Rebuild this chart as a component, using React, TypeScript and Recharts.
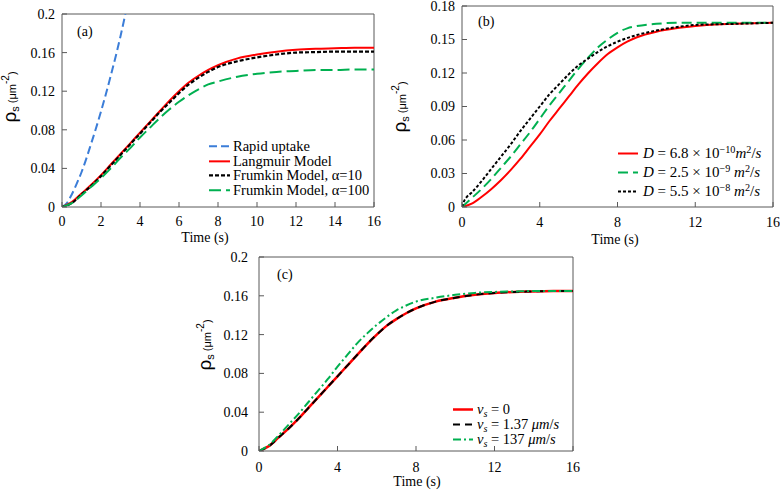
import React from 'react';
import { LineChart, Line, XAxis, YAxis, ReferenceLine } from 'recharts';

const SERIF = '"Liberation Serif", "Times New Roman", serif';
const SANS = '"Liberation Sans", Arial, sans-serif';
const AXIS = '#595959';
const RED = '#ff0000';
const GREEN = '#00b050';
const BLUE = '#3b7dd8';
const BLACK = '#000000';

// ---------- Panel (a) ----------
const xTicksA = [0, 2, 4, 6, 8, 10, 12, 14, 16];
const yTicksA = [0, 0.04, 0.08, 0.12, 0.16, 0.2];
const rapidT = [0, 0.25, 0.5, 0.75, 1, 1.5, 2, 2.5, 3, 3.25];
const rapidUptake = [0, 0.004, 0.013, 0.024, 0.036, 0.066, 0.099, 0.136, 0.177, 0.2];
const timeA = [0, 0.5, 1, 1.5, 2, 2.5, 3, 3.5, 4, 4.5, 5, 5.5, 6, 6.5, 7, 7.5, 8, 9, 10, 11, 12, 13, 14, 15, 16];
const langmuir = [0, 0.005, 0.014, 0.023, 0.033, 0.044, 0.055, 0.066, 0.077, 0.088, 0.099, 0.11, 0.12, 0.129, 0.136, 0.142, 0.147, 0.154, 0.158, 0.161, 0.163, 0.164, 0.1645, 0.165, 0.165];
const frumkin10 = [0, 0.004, 0.013, 0.022, 0.032, 0.043, 0.054, 0.065, 0.076, 0.087, 0.098, 0.108, 0.118, 0.127, 0.134, 0.14, 0.145, 0.151, 0.155, 0.158, 0.16, 0.1605, 0.161, 0.161, 0.161];
const frumkin100 = [0, 0.004, 0.012, 0.021, 0.03, 0.04, 0.051, 0.061, 0.072, 0.082, 0.092, 0.101, 0.109, 0.116, 0.122, 0.127, 0.13, 0.135, 0.138, 0.14, 0.141, 0.142, 0.142, 0.1425, 0.1425];

// ---------- Panel (b) ----------
const xTicksB = [0, 4, 8, 12, 16];
const yTicksB = [0, 0.03, 0.06, 0.09, 0.12, 0.15, 0.18];
const timeB = [0, 0.5, 1, 1.5, 2, 2.5, 3, 3.5, 4, 4.5, 5, 5.5, 6, 6.5, 7, 7.5, 8, 8.5, 9, 10, 11, 12, 13, 14, 16];
const d68e10 = [0, 0.003, 0.009, 0.016, 0.024, 0.033, 0.043, 0.054, 0.065, 0.077, 0.088, 0.099, 0.11, 0.12, 0.129, 0.137, 0.143, 0.148, 0.152, 0.157, 0.16, 0.162, 0.1635, 0.164, 0.165];
const d25e9 = [0, 0.008, 0.016, 0.025, 0.035, 0.045, 0.056, 0.067, 0.079, 0.091, 0.102, 0.113, 0.124, 0.134, 0.143, 0.15, 0.156, 0.16, 0.162, 0.164, 0.165, 0.165, 0.165, 0.165, 0.165];
const blackT = [0, 0.1, 0.25, 0.5, 1, 1.5, 2, 2.5, 3, 3.5, 4, 4.5, 5, 5.5, 6, 6.5, 7, 7.5, 8, 9, 10, 11, 12, 14, 16];
const d55e8 = [0, 0.005, 0.009, 0.013, 0.023, 0.034, 0.045, 0.056, 0.068, 0.079, 0.09, 0.101, 0.11, 0.119, 0.127, 0.133, 0.139, 0.144, 0.148, 0.154, 0.158, 0.161, 0.163, 0.164, 0.165];

// ---------- Panel (c) ----------
const xTicksC = [0, 4, 8, 12, 16];
const yTicksC = [0, 0.04, 0.08, 0.12, 0.16, 0.2];
const timeC = [0, 0.5, 1, 1.5, 2, 2.5, 3, 3.5, 4, 4.5, 5, 5.5, 6, 6.5, 7, 7.5, 8, 9, 10, 11, 12, 13, 14, 15, 16];
const vs0 = [0, 0.005, 0.014, 0.023, 0.033, 0.044, 0.055, 0.066, 0.077, 0.088, 0.099, 0.11, 0.12, 0.129, 0.136, 0.142, 0.147, 0.154, 0.158, 0.161, 0.163, 0.164, 0.1645, 0.165, 0.165];
const vs137 = [0, 0.005, 0.014, 0.023, 0.033, 0.044, 0.055, 0.066, 0.077, 0.088, 0.099, 0.11, 0.12, 0.129, 0.136, 0.142, 0.147, 0.154, 0.158, 0.161, 0.163, 0.164, 0.1645, 0.165, 0.165];
const vs137um = [0, 0.006, 0.016, 0.027, 0.038, 0.05, 0.062, 0.074, 0.087, 0.099, 0.111, 0.121, 0.13, 0.138, 0.145, 0.15, 0.154, 0.158, 0.161, 0.163, 0.164, 0.1645, 0.165, 0.165, 0.165];

const zip = (t: number[], v: number[]) => t.map((x, i) => ({ t: x, v: v[i] }));

type Series = { name: React.ReactNode; pts: { t: number; v: number }[]; color: string; dash?: string; width: number; key: string };

type PanelProps = {
  left: number; top: number; width: number; height: number;
  plot: { top: number; right: number; yw: number; xh: number };
  xTicks: number[]; yTicks: number[]; yMax: number;
  yFmt: (v: number) => string;
  series: Series[];
  xTickMargin: number; yTickMargin: number;
  xLabel: { x: number; y: number };
  yLabel: { x: number; y: number };
  tag: { text: string; x: number; y: number };
  legend: { x: number; y: number; row: number; font: number; lineX: number; lineW: number; textX: number };
};

const YLabelText = ({ x, y }: { x: number; y: number }) => (
  <text x={x} y={y} transform={`rotate(-90, ${x}, ${y})`} textAnchor="middle" fontFamily={SANS} fill="#000">
    <tspan fontSize={19}>ρ</tspan>
    <tspan fontSize={11} dy={3}>s</tspan>
    <tspan fontSize={11} dy={-3}> (μm</tspan>
    <tspan fontSize={10} dy={-7}>-2</tspan>
    <tspan fontSize={11} dy={7}>)</tspan>
  </text>
);

const Panel = (p: PanelProps) => {
  const tick = { fill: '#000', fontSize: 14, fontFamily: SERIF };
  return (
    <div style={{ position: 'absolute', left: p.left, top: p.top, width: p.width, height: p.height }}>
      <LineChart width={p.width} height={p.height} margin={{ top: p.plot.top, right: p.plot.right, left: 0, bottom: 0 }}>
        <XAxis
          dataKey="t" type="number" domain={[0, 16]} ticks={p.xTicks} interval={0}
          height={p.plot.xh} tickSize={-5} tickMargin={p.xTickMargin} stroke={AXIS} tick={tick}
          allowDataOverflow
          label={{ content: () => (
            <text x={p.xLabel.x} y={p.xLabel.y} textAnchor="middle" fontFamily={SERIF} fontSize={14} fill="#000">Time (s)</text>
          ) }}
        />
        <YAxis
          type="number" domain={[0, p.yMax]} ticks={p.yTicks} interval={0}
          width={p.plot.yw} tickSize={-5} tickMargin={p.yTickMargin} stroke={AXIS} tick={tick}
          tickFormatter={p.yFmt} allowDataOverflow
          label={{ content: () => <YLabelText x={p.yLabel.x} y={p.yLabel.y} /> }}
        />
        <ReferenceLine y={p.yMax} stroke={AXIS} strokeWidth={1} />
        <ReferenceLine x={16} stroke={AXIS} strokeWidth={1} />
        {p.series.map((s) => (
          <Line
            key={s.key} data={s.pts} dataKey="v" type="monotone" stroke={s.color}
            strokeWidth={s.width} strokeDasharray={s.dash} dot={false} activeDot={false}
            isAnimationActive={false}
          />
        ))}
      </LineChart>
      <div style={{ position: 'absolute', left: p.tag.x, top: p.tag.y, fontFamily: SERIF, fontSize: 14, lineHeight: '14px' }}>{p.tag.text}</div>
      <div style={{ position: 'absolute', left: p.legend.x, top: p.legend.y }}>
        {p.series.map((s, i) => (
          <div key={s.key} style={{ position: 'absolute', top: i * p.legend.row, left: 0, height: p.legend.row, width: p.width, whiteSpace: 'nowrap' }}>
            <svg width={p.legend.lineW} height={p.legend.row} style={{ position: 'absolute', left: p.legend.lineX, top: 0 }}>
              <line x1={0} x2={p.legend.lineW} y1={p.legend.row / 2} y2={p.legend.row / 2} stroke={s.color} strokeWidth={s.width} strokeDasharray={s.dash} />
            </svg>
            <span style={{ position: 'absolute', left: p.legend.textX, top: 0, fontFamily: SERIF, fontSize: p.legend.font, lineHeight: `${p.legend.row}px` }}>{s.name}</span>
          </div>
        ))}
      </div>
    </div>
  );
};

const fmt2 = (v: number) => (v === 0 ? '0' : String(Number(v.toFixed(2))));

const seriesA: Series[] = [
  { key: 'rapid', name: 'Rapid uptake', pts: zip(rapidT, rapidUptake), color: BLUE, dash: '8 4', width: 2 },
  { key: 'lang', name: 'Langmuir Model', pts: zip(timeA, langmuir), color: RED, width: 2 },
  { key: 'f10', name: 'Frumkin Model, α=10', pts: zip(timeA, frumkin10), color: BLACK, dash: '4 2', width: 2.2 },
  { key: 'f100', name: 'Frumkin Model, α=100', pts: zip(timeA, frumkin100), color: GREEN, dash: '12 5', width: 2 },
];

const M = ({ children }: { children: React.ReactNode }) => <i>{children}</i>;
const Sup = ({ children }: { children: React.ReactNode }) => (
  <span style={{ position: 'relative', top: '-0.45em', fontSize: '0.68em', lineHeight: 0 }}>{children}</span>
);
const Sub = ({ children }: { children: React.ReactNode }) => (
  <span style={{ position: 'relative', top: '0.3em', fontSize: '0.7em', lineHeight: 0 }}>{children}</span>
);

const seriesB: Series[] = [
  { key: 'd1', name: <span><M>D</M> = 6.8 × 10<Sup>−10</Sup><M>m</M><Sup>2</Sup>/<M>s</M></span>, pts: zip(timeB, d68e10), color: RED, width: 2 },
  { key: 'd2', name: <span><M>D</M> = 2.5 × 10<Sup>−9</Sup> <M>m</M><Sup>2</Sup>/<M>s</M></span>, pts: zip(timeB, d25e9), color: GREEN, dash: '10 5', width: 2 },
  { key: 'd3', name: <span><M>D</M> = 5.5 × 10<Sup>−8</Sup> <M>m</M><Sup>2</Sup>/<M>s</M></span>, pts: zip(blackT, d55e8), color: BLACK, dash: '3 2', width: 2 },
];

const seriesC: Series[] = [
  { key: 'v0', name: <span><M>v</M><Sub><M>s</M></Sub> = 0</span>, pts: zip(timeC, vs0), color: RED, width: 2.5 },
  { key: 'v1', name: <span><M>v</M><Sub><M>s</M></Sub> = 1.37 <M>μm</M>/<M>s</M></span>, pts: zip(timeC, vs137), color: BLACK, dash: '7 5', width: 2 },
  { key: 'v2', name: <span><M>v</M><Sub><M>s</M></Sub> = 137 <M>μm</M>/<M>s</M></span>, pts: zip(timeC, vs137um), color: GREEN, dash: '8 3 2 3', width: 2 },
];

export default function App() {
  return (
    <div style={{ position: 'absolute', left: 0, top: 0, width: 780, height: 490, background: '#fff', overflow: 'hidden' }}>
      <Panel
        left={0} top={0} width={390} height={250}
        plot={{ top: 14, right: 16, yw: 62, xh: 43 }}
        xTicks={xTicksA} yTicks={yTicksA} yMax={0.2} yFmt={fmt2}
        series={seriesA} xTickMargin={14} yTickMargin={12}
        xLabel={{ x: 205, y: 242 }} yLabel={{ x: 16, y: 97 }}
        tag={{ text: '(a)', x: 77, y: 25 }}
        legend={{ x: 0, y: 139, row: 14.7, font: 14.5, lineX: 209, lineW: 21, textX: 233 }}
      />
      <Panel
        left={390} top={0} width={390} height={250}
        plot={{ top: 6, right: 7, yw: 72, xh: 43 }}
        xTicks={xTicksB} yTicks={yTicksB} yMax={0.18} yFmt={fmt2}
        series={seriesB} xTickMargin={15} yTickMargin={12}
        xLabel={{ x: 225, y: 244 }} yLabel={{ x: 16, y: 107 }}
        tag={{ text: '(b)', x: 88, y: 15 }}
        legend={{ x: 0, y: 144, row: 19, font: 15, lineX: 228, lineW: 20, textX: 253 }}
      />
      <Panel
        left={190} top={240} width={400} height={250}
        plot={{ top: 17, right: 17, yw: 69, xh: 39 }}
        xTicks={xTicksC} yTicks={yTicksC} yMax={0.2} yFmt={fmt2}
        series={seriesC} xTickMargin={16} yTickMargin={16}
        xLabel={{ x: 227, y: 246 }} yLabel={{ x: 21, y: 105 }}
        tag={{ text: '(c)', x: 87, y: 28 }}
        legend={{ x: 0, y: 162, row: 15, font: 14.5, lineX: 263, lineW: 20, textX: 287 }}
      />
    </div>
  );
}
